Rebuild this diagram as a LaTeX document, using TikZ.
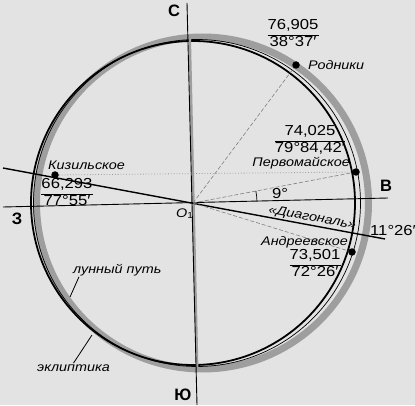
\documentclass[tikz,border=0pt]{standalone}
\usepackage{fontspec}
\setmainfont{Liberation Sans}[FakeStretch=1.15]
\newfontfamily\dirfont{Liberation Sans}
\usetikzlibrary{positioning,calc}
\definecolor{paper}{gray}{0.89}
\definecolor{band}{gray}{0.62}
\setlength\arrayrulewidth{0.8pt}
\newcommand\valpair[2]{\begin{tabular}{@{}c@{}}#1\\\hline#2\end{tabular}}

\begin{document}
\begin{tikzpicture} [x=1pt, y=1pt,
    axis/.style={line width=0.9pt},
    diag/.style={line width=1.4pt},
    lunar/.style={line width=1.8pt},
    ecl/.style={band, line width=7pt},
    aux/.style={black!50, line width=0.6pt, dash pattern=on 4pt off 2pt},
    dotline/.style={black!40, line width=0.8pt, dotted},
    placedot/.style={circle, fill, inner sep=0, minimum size=7.5pt},
    lab/.style={inner sep=1pt, font=\fontsize{12.5}{15}\selectfont\itshape},
    num/.style={inner sep=1pt, font=\fontsize{14.5}{16.5}\selectfont},
    dir/.style={inner sep=0, font=\dirfont\fontsize{16.5}{18}\selectfont\bfseries}
    ]
    \fill[paper] (0,0) rectangle (415,405);
    \useasboundingbox (0,0) rectangle (415,405);
    % centres of the circles
    \coordinate (O1) at (193,202);
    \coordinate (Ec) at (202.5,202);
    \coordinate (Mc) at (197,202);
    % ecliptic and lunar path
    \draw[ecl] (Ec) circle[radius=166];
    \draw[line width=0.7pt] (Mc) circle[radius=163.5];
    \draw[lunar] (O1) circle[radius=162];
    % axes
    \coordinate (gn) at (189.7,369);
    \coordinate (gs) at (197.2,36);
    \coordinate (nn) at (187,402);
    \coordinate (ss) at (197,0);
    \coordinate (ww) at (3,198);
    \coordinate (ee) at (388,207);
    \draw[band, line width=2.5pt] (gn) -- (gs);
    \draw[axis] (nn) -- (ss);
    \draw[axis] (ww) -- (ee);
    \coordinate (dw) at (3,237);
    \coordinate (de) at (385,166);
    \draw[diag] (dw) -- (de) node[pos=.806, above, sloped, lab] {«Диагональ»};
    % places
    \foreach \nm/\px/\py in {rod/296/340, perv/356/233, kiz/55/230, andr/352/153}
        \node[placedot] (\nm) at (\px,\py) {};
    \draw[aux] (O1) -- (rod);
    \draw[aux] (O1) -- (perv);
    \draw[aux] (O1) -- (andr);
    \draw[dotline] (kiz) -- (perv);
    \draw[line width=0.7pt] (O1) ++(1.5:64) arc[start angle=1.5, end angle=10.8, radius=64];
    % names
    \node[lab, right=7pt of rod] (rodlab) {Родники};
    \node[lab, anchor=base east] (pervlab) at (351,238) {Первомайское};
    \node[lab, anchor=base west] (kizlab) at (47,236) {Кизильское};
    \node[lab, anchor=base east] (andrlab) at (349,160) {Андреевское};
    \node[lab, anchor=base west] (o1lab) at (175,188) {O\textsubscript{\upshape 1}};
    % values
    \node[num] (rodval) at (293,370) {\valpair{76,905}{38°37′}};
    \node[num] (pervval) at (310,264) {\valpair{74,025}{79°84,42′}};
    \node[num] (kizval) at (67,211) {\valpair{66,293}{77°55′}};
    \node[num] (andrval) at (315,140) {\valpair{73,501}{72°26′}};
    \node[num, anchor=base west] (ninedeg) at (271,207) {9°};
    \node[num, anchor=base west] (diagdeg) at (369,170) {11°26′};
    % directions
    \node[dir] (north) at (174,394) {С};
    \node[dir] (south) at (183,10) {Ю};
    \node[dir] (west) at (17,186) {З};
    \node[dir] (east) at (386,219) {В};
    % legend
    \node[lab, anchor=base west] (lunlab) at (72,132) {лунный путь};
    \node[lab, anchor=base west] (eklab) at (36,34) {эклиптика};
    \coordinate (lp) at (70,108);
    \coordinate (ep) at (92,70);
    \draw[line width=0.8pt] ($(lunlab.south west)+(7,0)$) -- (lp);
    \draw[line width=0.8pt] (eklab.north) -- (ep);
\end{tikzpicture}
\end{document}
